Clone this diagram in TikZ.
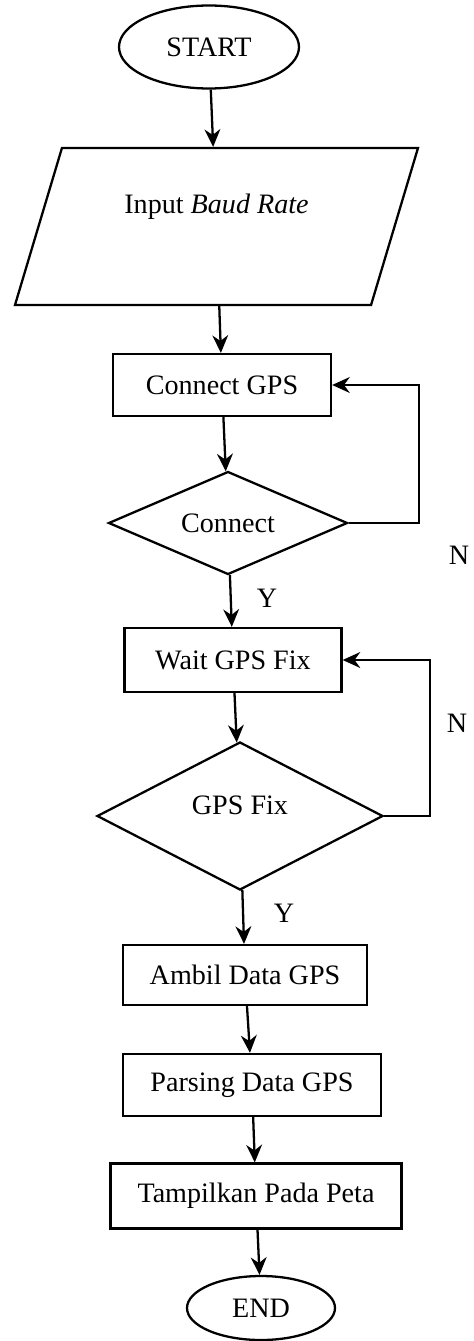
\documentclass[tikz,border=0pt]{standalone}
\usepackage{fontspec}
\setmainfont{Liberation Serif}
\usepackage{tikz}
\usetikzlibrary{shapes.geometric,arrows.meta}

\begin{document}
\begin{tikzpicture}[>={Stealth[length=10pt,width=9pt]}, line width=1.3pt,
    every node/.style={font=\fontsize{16}{19}\selectfont},
    terminal/.style={draw, ellipse},
    process/.style={draw, rectangle},
    decision/.style={draw, diamond, aspect=2.3, inner sep=1pt},
    inout/.style={draw, trapezium, trapezium left angle=58.6,
        trapezium right angle=121.4, trapezium stretches body}]
    % Fix size of page
    \useasboundingbox (0,0) rectangle (9.46,-26.82);

    % Define x of the two loops
    \def\loopa{8.38}
    \def\loopb{8.6}

    % Draw start and input
    \node[terminal, minimum width=3.6cm, minimum height=1.66cm] (start) at (4.18,-0.94) {START};
    \node[inout, minimum width=8.06cm, minimum height=3.14cm, text depth=26pt] (input) at (4.33,-4.53)
        {Input \textit{Baud Rate}};

    % Draw connecting part
    \node[process, minimum width=4.36cm, minimum height=1.24cm] (connect) at (4.44,-7.70) {Connect GPS};
    \node[decision, minimum width=4.78cm, minimum height=2.06cm] (isconn) at (4.56,-10.46) {Connect};

    % Draw waiting part
    \node[process, minimum width=4.34cm, minimum height=1.28cm] (wait) at (4.66,-13.2) {Wait GPS Fix};
    \node[decision, minimum width=5.72cm, minimum height=2.96cm, text depth=12pt] (isfix) at (4.8,-16.32) {GPS Fix};

    % Draw data part
    \node[process, minimum width=4.88cm, minimum height=1.2cm] (ambil) at (4.9,-19.5) {Ambil Data GPS};
    \node[process, minimum width=5.16cm, minimum height=1.24cm] (parsing) at (5.04,-21.7) {Parsing Data GPS};
    \node[process, minimum width=5.82cm, minimum height=1.3cm] (tampil) at (5.12,-23.92) {Tampilkan Pada Peta};
    \node[terminal, minimum width=2.96cm, minimum height=1.28cm] (end) at (5.22,-26.16) {END};

    % Draw main arrows
    \draw[->] (start) -- (input);
    \draw[->] (input) -- (connect);
    \draw[->] (connect) -- (isconn);
    \draw[->] (isconn) -- (wait);
    \draw[->] (wait) -- (isfix);
    \draw[->] (isfix) -- (ambil);
    \draw[->] (ambil) -- (parsing);
    \draw[->] (parsing) -- (tampil);
    \draw[->] (tampil) -- (end);

    % Draw loops back
    \coordinate (loopa) at (\loopa,0);
    \coordinate (loopb) at (\loopb,0);
    \draw[->] (isconn.east) -- (isconn.east -| loopa) -- (connect.east -| loopa) -- (connect.east);
    \draw[->] (isfix.east) -- (isfix.east -| loopb) -- (wait.east -| loopb) -- (wait.east);

    % Draw labels
    \node (ya) at (5.34,-11.96) {Y};
    \node (yb) at (5.68,-18.26) {Y};
    \node (na) at (9.18,-11.1) {N};
    \node (nb) at (9.14,-14.46) {N};

\end{tikzpicture}
\end{document}
